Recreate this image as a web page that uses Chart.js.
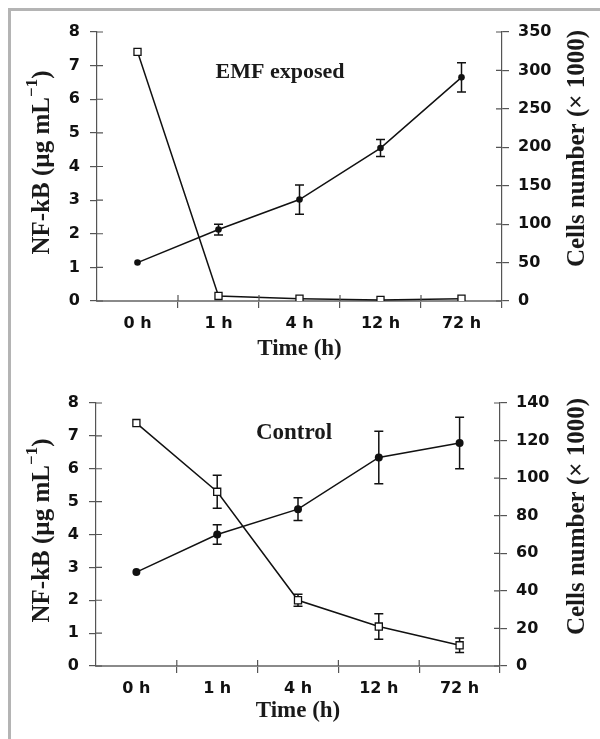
<!DOCTYPE html>
<html>
<head>
<meta charset="utf-8">
<script src="https://cdn.jsdelivr.net/npm/chart.js@4/dist/chart.umd.min.js"></script>
<style>
  html, body { margin: 0; padding: 0; background: #fff; }
  body { width: 600px; height: 739px; position: relative; overflow: hidden; }
  .frame { position: absolute; left: 8px; top: 8px; right: -10px; bottom: -10px;
           border-top: 3px solid #b4b4b4; border-left: 3px solid #b4b4b4; }
  canvas { position: absolute; left: 0; }
</style>
</head>
<body>
<div class="frame"></div>
<canvas id="emfChart" width="600" height="370" style="top:0"></canvas>
<canvas id="ctlChart" width="600" height="369" style="top:370px"></canvas>
<script>
// categories
const timeLabels = ['0 h', '1 h', '4 h', '12 h', '72 h'];

// EMF exposed panel
const emfNfkb = [7.41, 0.15, 0.07, 0.03, 0.07];      // open squares, left axis
const emfNfkbErr = [0, 0, 0, 0, 0];
const emfCells = [50, 93, 132, 199, 291];            // filled circles, right axis
const emfCellsErr = [0, 7, 19, 11, 19];

// Control panel
const ctlNfkb = [7.39, 5.3, 2.0, 1.2, 0.63];
const ctlNfkbErr = [0, 0.5, 0.18, 0.39, 0.22];
const ctlCells = [50, 70, 83.5, 111, 118.7];
const ctlCellsErr = [0, 5.2, 6, 14, 13.7];

const serifBold = '"Liberation Serif", "Times New Roman", serif';
const sansBold = '"DejaVu Sans", Arial, sans-serif';

// vertical error bars, drawn behind the markers
const errorBars = {
    id: 'errorBars',
    beforeDatasetsDraw(chart) {
        const ctx = chart.ctx;
        ctx.save();
        ctx.strokeStyle = '#111';
        ctx.lineWidth = 1.5;
        chart.data.datasets.forEach((ds, i) => {
            if (!ds.err) return;
            const yScale = chart.scales[ds.yAxisID];
            const meta = chart.getDatasetMeta(i);
            ds.data.forEach((v, j) => {
                const e = ds.err[j];
                if (!e) return;
                const x = meta.data[j].x;
                const top = yScale.getPixelForValue(v + e);
                const bot = yScale.getPixelForValue(v - e);
                ctx.beginPath();
                ctx.moveTo(x, top); ctx.lineTo(x, bot);
                ctx.moveTo(x - 4.5, top); ctx.lineTo(x + 4.5, top);
                ctx.moveTo(x - 4.5, bot); ctx.lineTo(x + 4.5, bot);
                ctx.stroke();
            });
        });
        ctx.restore();
    }
};

// tick marks in the reference cross the axis line, so add the inner half
const innerTicks = {
    id: 'innerTicks',
    afterDraw(chart) {
        const ctx = chart.ctx;
        const { x, y, y1 } = chart.scales;
        ctx.save();
        ctx.strokeStyle = '#555';
        ctx.lineWidth = 1.2;
        ctx.beginPath();
        y.ticks.forEach(t => {
            const py = y.getPixelForValue(t.value);
            ctx.moveTo(y.right, py); ctx.lineTo(y.right + 6, py);
        });
        y1.ticks.forEach(t => {
            const py = y1.getPixelForValue(t.value);
            ctx.moveTo(y1.left, py); ctx.lineTo(y1.left - 6, py);
        });
        for (let i = 0; i < timeLabels.length - 1; i++) {
            const px = (x.getPixelForValue(i) + x.getPixelForValue(i + 1)) / 2;
            ctx.moveTo(px, x.top); ctx.lineTo(px, x.top - 6);
        }
        ctx.stroke();
        ctx.restore();
    }
};

// y axis titles (both read bottom to top) and the panel label
const panelText = {
    id: 'panelText',
    afterDraw(chart, args, opts) {
        const ctx = chart.ctx;
        const area = chart.chartArea;
        const midY = (area.top + area.bottom) / 2;
        ctx.save();
        ctx.fillStyle = '#1a1a1a';
        ctx.textBaseline = 'middle';

        // left title with superscript
        ctx.save();
        ctx.translate(opts.leftX, midY + opts.leftShift);
        ctx.rotate(-Math.PI / 2);
        const big = 'bold 25px ' + serifBold;
        const small = 'bold 17px ' + serifBold;
        const parts = [['NF-kB (µg mL', big, 0], ['\u22121', small, -10], [')', big, 0]];
        let total = 0;
        parts.forEach(p => { ctx.font = p[1]; total += ctx.measureText(p[0]).width; });
        let x = -total / 2;
        ctx.textAlign = 'left';
        parts.forEach(p => {
            ctx.font = p[1];
            ctx.fillText(p[0], x, p[2]);
            x += ctx.measureText(p[0]).width;
        });
        ctx.restore();

        // right title
        ctx.save();
        ctx.translate(opts.rightX, midY + opts.rightShift);
        ctx.rotate(-Math.PI / 2);
        ctx.font = 'bold 25px ' + serifBold;
        ctx.textAlign = 'center';
        ctx.fillText('Cells number (\u00d7 1000)', 0, 0);
        ctx.restore();

        // panel label
        ctx.font = 'bold ' + opts.labelSize + 'px ' + serifBold;
        ctx.textAlign = 'center';
        ctx.fillText(opts.label, opts.labelX, opts.labelY);
        ctx.restore();
    }
};

function buildChart(id, cfg) {
    const axisGrid = {
        drawOnChartArea: false, drawTicks: true, tickLength: 7, color: '#555', lineWidth: 1.2
    };
    const tickFont = { family: sansBold, size: 16, weight: 'bold' };
    return new Chart(document.getElementById(id), {
        type: 'line',
        data: {
            labels: timeLabels,
            datasets: [{
                label: 'NF-kB',
                data: cfg.nfkb,
                err: cfg.nfkbErr,
                yAxisID: 'y',
                borderColor: '#111',
                borderWidth: 1.5,
                pointStyle: 'rect',
                pointRadius: 5,
                pointBackgroundColor: '#fff',
                pointBorderColor: '#111',
                pointBorderWidth: 1.3,
                tension: 0
            }, {
                label: 'Cells',
                data: cfg.cells,
                err: cfg.cellsErr,
                yAxisID: 'y1',
                borderColor: '#111',
                borderWidth: 1.5,
                pointStyle: 'circle',
                pointRadius: cfg.dot,
                pointBackgroundColor: '#111',
                pointBorderColor: '#111',
                pointBorderWidth: 0,
                tension: 0
            }]
        },
        options: {
            responsive: false,
            animation: false,
            layout: { padding: { top: cfg.top, left: 0, right: 0, bottom: 0 } },
            plugins: {
                legend: { display: false },
                tooltip: { enabled: false },
                panelText: cfg.text
            },
            scales: {
                x: {
                    offset: true,
                    grid: Object.assign({}, axisGrid, {
                        offset: true,
                        color: c => (c.index === 0 || c.index === timeLabels.length) ? 'rgba(0,0,0,0)' : '#555'
                    }),
                    border: { color: '#8a8a8a', width: 2 },
                    ticks: { color: '#111', font: tickFont, padding: 6 },
                    title: {
                        display: true, text: 'Time (h)', color: '#1a1a1a',
                        font: { family: serifBold, size: 23, weight: 'bold' },
                        padding: { top: 0, bottom: cfg.titlePad }
                    },
                    afterFit: s => { s.height = cfg.xHeight; }
                },
                y: {
                    position: 'left',
                    min: 0, max: 8,
                    grid: axisGrid,
                    border: { color: '#555', width: 1.2 },
                    ticks: { stepSize: 1, color: '#111', padding: 10, font: tickFont },
                    afterFit: s => { s.width = cfg.leftW; }
                },
                y1: {
                    position: 'right',
                    min: 0, max: cfg.rightMax,
                    grid: axisGrid,
                    border: { color: '#555', width: 1.2 },
                    ticks: { stepSize: cfg.rightStep, color: '#111', padding: 9, font: tickFont },
                    afterFit: s => { s.width = cfg.rightW; }
                }
            }
        },
        plugins: [errorBars, innerTicks, panelText]
    });
}

buildChart('emfChart', {
    nfkb: emfNfkb, nfkbErr: emfNfkbErr, cells: emfCells, cellsErr: emfCellsErr,
    dot: 3.3, top: 32, leftW: 97, rightW: 98, xHeight: 69, titlePad: 7,
    rightMax: 350, rightStep: 50,
    text: { leftX: 43, leftShift: -4, rightX: 578, rightShift: -18,
            label: 'EMF exposed', labelSize: 22, labelX: 280, labelY: 72 }
});

buildChart('ctlChart', {
    nfkb: ctlNfkb, nfkbErr: ctlNfkbErr, cells: ctlCells, cellsErr: ctlCellsErr,
    dot: 4, top: 33, leftW: 96, rightW: 100, xHeight: 73, titlePad: 14,
    rightMax: 140, rightStep: 20,
    text: { leftX: 43, leftShift: -4, rightX: 578, rightShift: -18,
            label: 'Control', labelSize: 23, labelX: 294, labelY: 63 }
});
</script>
</body>
</html>
